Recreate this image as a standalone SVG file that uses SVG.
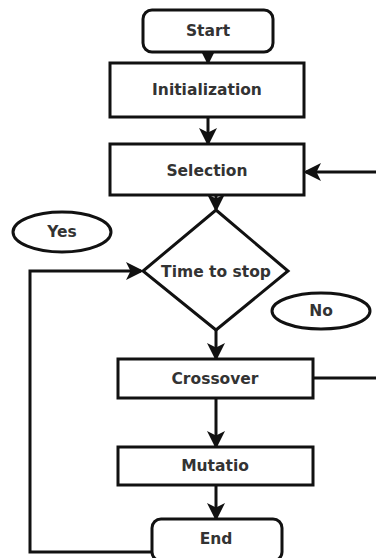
<svg xmlns="http://www.w3.org/2000/svg" width="376" height="558" viewBox="0 0 376 558">
<style>
.box{fill:#fff;stroke:#111;stroke-width:3}
.t{font-family:"DejaVu Sans","Liberation Sans",sans-serif;font-size:15.5px;font-weight:bold;fill:#333;text-anchor:middle;dominant-baseline:central}
.c{fill:none;stroke:#111;stroke-width:3}
</style>
<defs>
<marker id="ah" markerWidth="6" markerHeight="6" refX="5" refY="3" orient="auto" markerUnits="strokeWidth">
<path d="M0,0 L6,3 L0,6 L1.5,3 Z" fill="#111"/>
</marker>
</defs>
<rect width="376" height="558" fill="#fff"/>
<g id="connectors">
<line class="c" x1="208" y1="52" x2="208" y2="62" marker-end="url(#ah)"/>
<line class="c" x1="208" y1="117" x2="208" y2="143" marker-end="url(#ah)"/>
<line class="c" x1="376" y1="172" x2="306" y2="172" marker-end="url(#ah)"/>
<line class="c" x1="216" y1="195" x2="216" y2="209" marker-end="url(#ah)"/>
<polyline class="c" points="152,552 30,552 30,271 141,271" marker-end="url(#ah)"/>
<line class="c" x1="216" y1="330" x2="216" y2="358" marker-end="url(#ah)"/>
<line class="c" x1="313" y1="378" x2="376" y2="378"/>
<line class="c" x1="216" y1="398" x2="216" y2="446" marker-end="url(#ah)"/>
<line class="c" x1="216" y1="485" x2="216" y2="518" marker-end="url(#ah)"/>
</g>
<g id="start"><rect class="box" x="143" y="10" width="130" height="42" rx="9"/><text class="t" x="208" y="31">Start</text></g>
<g id="init"><rect class="box" x="110" y="63" width="194" height="54"/><text class="t" x="207" y="90">Initialization</text></g>
<g id="selection"><rect class="box" x="110" y="144" width="194" height="51"/><text class="t" x="207" y="171">Selection</text></g>
<g id="yes"><ellipse class="box" cx="62" cy="232" rx="49" ry="20"/><text class="t" x="62" y="232">Yes</text></g>
<g id="decision"><polygon class="box" points="216,210 288,271 216,330 143,271"/><text class="t" x="216" y="272">Time to stop</text></g>
<g id="no"><ellipse class="box" cx="321" cy="311" rx="49" ry="18"/><text class="t" x="321" y="311">No</text></g>
<g id="crossover"><rect class="box" x="118" y="359" width="195" height="39"/><text class="t" x="215" y="379">Crossover</text></g>
<g id="mutation"><rect class="box" x="118" y="447" width="195" height="38"/><text class="t" x="215" y="466">Mutatio</text></g>
<g id="end"><rect class="box" x="152" y="519" width="130" height="42" rx="9"/><text class="t" x="216" y="539">End</text></g>
</svg>
